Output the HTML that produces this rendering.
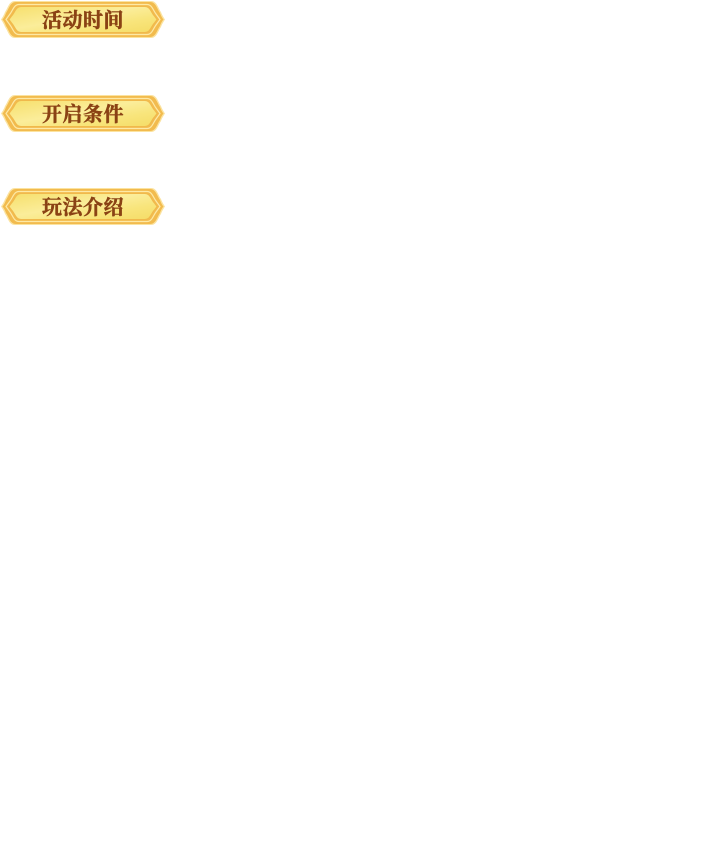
<!DOCTYPE html>
<html>
<head>
<meta charset="utf-8">
<style>
html,body{margin:0;padding:0;background:#fff;}
body{width:701px;height:842px;position:relative;overflow:hidden;}
svg{position:absolute;left:0;top:0;}
.t{font-family:"Liberation Serif","Noto Serif CJK SC","Noto Sans CJK SC",serif;font-weight:bold;font-size:20px;fill:#8a4214;stroke:#8a4214;stroke-width:0.5;letter-spacing:0.5px;}
</style>
</head>
<body>
<svg width="701" height="842" viewBox="0 0 701 842" xmlns="http://www.w3.org/2000/svg">
<defs>
<linearGradient id="fill" x1="0" y1="0" x2="1" y2="1">
<stop offset="0" stop-color="#f6df6c"/>
<stop offset="0.45" stop-color="#fbed9a"/>
<stop offset="0.7" stop-color="#f8e57c"/>
<stop offset="1" stop-color="#f5dc66"/>
</linearGradient>
<g id="badge">
<path d="M15,0 H151 C157,0 158,7 161,11 C162,14 164,17 165,18.5 C164,20 162,23 161,26 C158,30 157,37 151,37 H15 C9,37 8,30 5,26 C4,23 2,20 1,18.5 C2,17 4,14 5,11 C8,7 9,0 15,0 Z" fill="#fbe3a0"/>
<path d="M16,1 H150 C156,1 157,8 160,12 C161,15 162.5,17.5 163.5,18.5 C162.5,19.5 161,22 160,25 C157,29 156,36 150,36 H16 C10,36 9,29 6,25 C5,22 3.5,19.5 2.5,18.5 C3.5,17.5 5,15 6,12 C9,8 10,1 16,1 Z" fill="#f2bb4e"/>
<path d="M19,3.5 H147 C152,3.5 153,9 156,13 L160,18.5 L156,24 C153,28 152,33.5 147,33.5 H19 C14,33.5 13,28 10,24 L6,18.5 L10,13 C13,9 14,3.5 19,3.5 Z" fill="none" stroke="#fde9a6" stroke-width="1.2"/>
<path d="M21,5.5 H145 C150,5.5 151,11 154,14.5 L157,18.5 L154,22.5 C151,26 150,31.5 145,31.5 H21 C16,31.5 15,26 12,22.5 L9,18.5 L12,14.5 C15,11 16,5.5 21,5.5 Z" fill="url(#fill)" stroke="#f0b94c" stroke-width="1"/>
</g>
</defs>
<g transform="translate(0,1)">
<use href="#badge"/>
<text class="t" x="83" y="26" text-anchor="middle">活动时间</text>
</g>
<g transform="translate(0,95)">
<use href="#badge"/>
<text class="t" x="83" y="26" text-anchor="middle">开启条件</text>
</g>
<g transform="translate(0,188)">
<use href="#badge"/>
<text class="t" x="83" y="26" text-anchor="middle">玩法介绍</text>
</g>
</svg>
</body>
</html>
